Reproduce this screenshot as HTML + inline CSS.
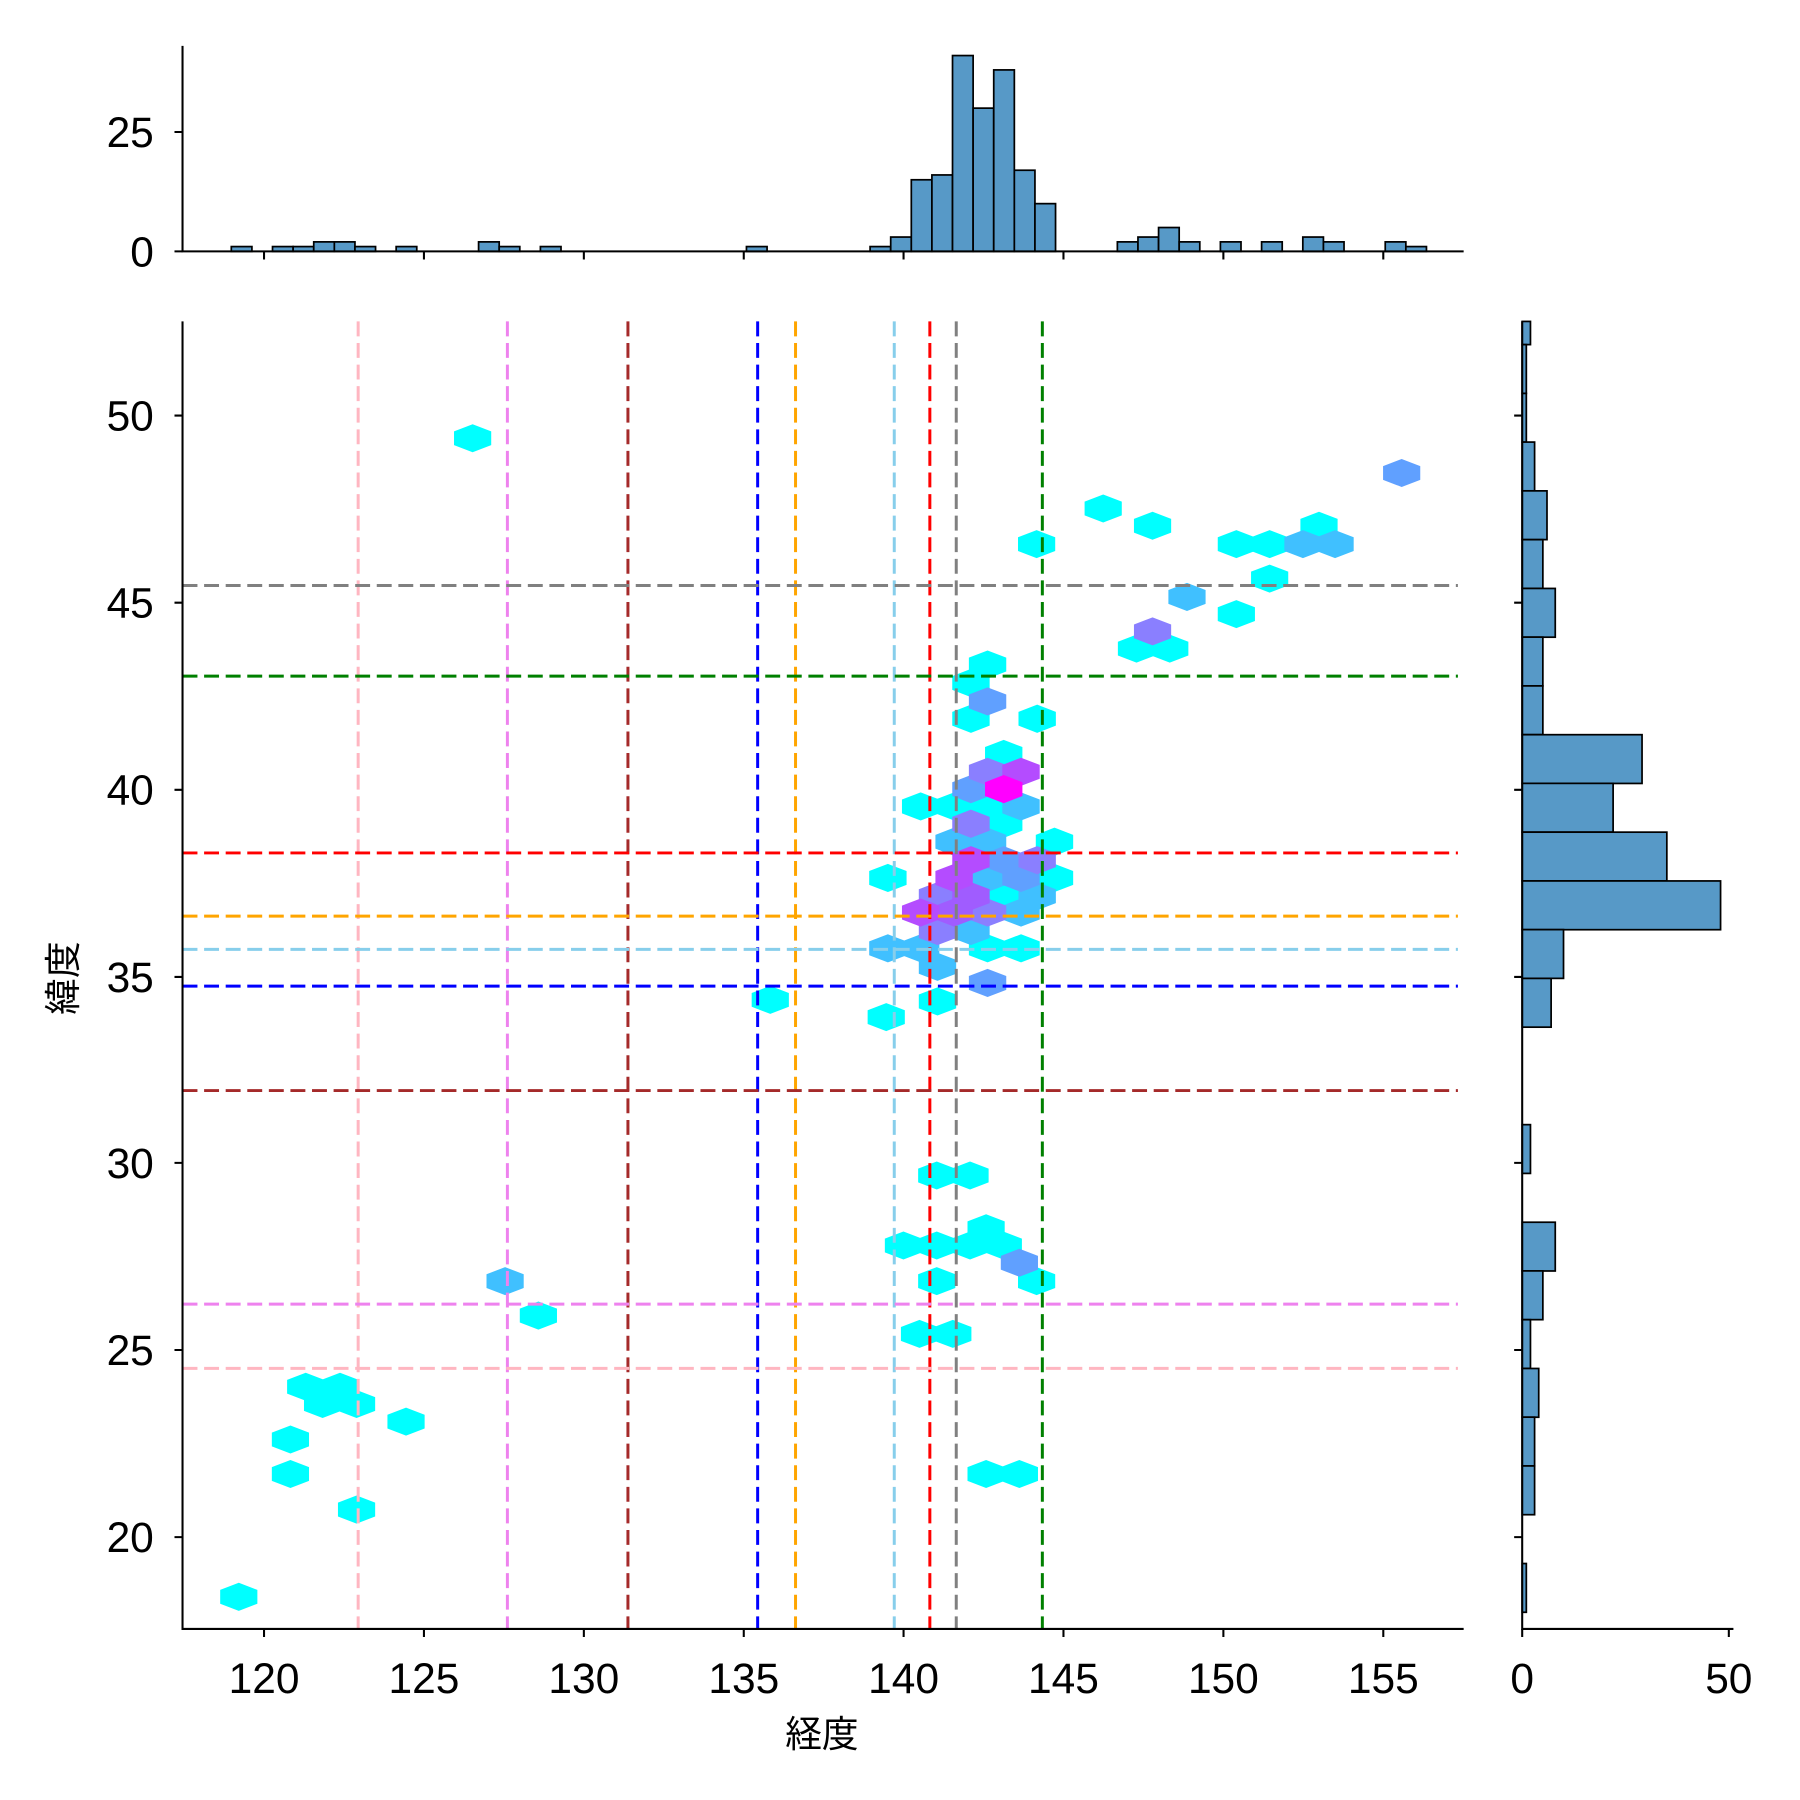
<!DOCTYPE html>
<html><head><meta charset="utf-8"><style>html,body{margin:0;padding:0;background:#fff}svg{display:block}</style></head><body>
<svg xmlns="http://www.w3.org/2000/svg" xmlns:xlink="http://www.w3.org/1999/xlink" width="1800" height="1800" viewBox="0 0 1568 1568">
<defs><polygon id="h" points="0,-12.2 16.2,-6 16.2,6 0,12.2 -16.2,6 -16.2,-6"/></defs>
<rect width="1568" height="1568" fill="#fff"/>
<!-- hexes -->
<g fill="#00ffff">
<use xlink:href="#h" x="208" y="1391"/><use xlink:href="#h" x="253" y="1254"/><use xlink:href="#h" x="253" y="1284"/>
<use xlink:href="#h" x="310.6" y="1315"/><use xlink:href="#h" x="353.7" y="1238.4"/>
<use xlink:href="#h" x="266.3" y="1208"/><use xlink:href="#h" x="296.2" y="1208"/><use xlink:href="#h" x="281" y="1223"/><use xlink:href="#h" x="310.6" y="1223"/>
<use xlink:href="#h" x="469" y="1146"/><use xlink:href="#h" x="411.7" y="381.8"/>
<use xlink:href="#h" x="961" y="443"/><use xlink:href="#h" x="1004" y="458"/><use xlink:href="#h" x="903" y="474"/>
<use xlink:href="#h" x="1149" y="458"/><use xlink:href="#h" x="1077" y="474"/><use xlink:href="#h" x="1106" y="474"/>
<use xlink:href="#h" x="1106" y="504"/><use xlink:href="#h" x="1077" y="535"/>
<use xlink:href="#h" x="990" y="565"/><use xlink:href="#h" x="1019" y="565"/>
<use xlink:href="#h" x="816" y="1024"/><use xlink:href="#h" x="845" y="1024"/><use xlink:href="#h" x="859" y="1070"/>
<use xlink:href="#h" x="787" y="1085"/><use xlink:href="#h" x="816" y="1085"/><use xlink:href="#h" x="845" y="1085"/><use xlink:href="#h" x="874" y="1085"/>
<use xlink:href="#h" x="816" y="1116"/><use xlink:href="#h" x="903" y="1116"/><use xlink:href="#h" x="801" y="1162"/><use xlink:href="#h" x="830" y="1162"/>
<use xlink:href="#h" x="859" y="1284"/><use xlink:href="#h" x="888" y="1284"/>
<use xlink:href="#h" x="671" y="871"/><use xlink:href="#h" x="772" y="886"/>
</g>
<use xlink:href="#h" x="440" y="1116" fill="#40c0ff"/>
<use xlink:href="#h" x="1221" y="412" fill="#60a0ff"/>
<use xlink:href="#h" x="1135" y="474" fill="#40c0ff"/><use xlink:href="#h" x="1163" y="474" fill="#40c0ff"/>
<use xlink:href="#h" x="1034" y="520" fill="#40c0ff"/><use xlink:href="#h" x="1004" y="550" fill="#8a7fff"/>
<use xlink:href="#h" x="888" y="1100" fill="#60a0ff"/>
<g transform="scale(1.005)">
<g fill="#00ffff">
<use xlink:href="#h" x="856" y="576"/><use xlink:href="#h" x="841.6" y="592"/><use xlink:href="#h" x="841.6" y="623"/><use xlink:href="#h" x="899" y="623"/>
<use xlink:href="#h" x="870" y="653.5"/><use xlink:href="#h" x="798" y="699"/><use xlink:href="#h" x="827" y="699"/><use xlink:href="#h" x="856" y="699"/>
<use xlink:href="#h" x="870" y="714"/><use xlink:href="#h" x="914" y="729.6"/><use xlink:href="#h" x="914" y="761"/><use xlink:href="#h" x="769.6" y="761"/>
<use xlink:href="#h" x="870" y="776.8"/><use xlink:href="#h" x="856" y="822"/><use xlink:href="#h" x="885" y="822"/><use xlink:href="#h" x="812.6" y="868"/>
</g>
<g fill="#40c0ff">
<use xlink:href="#h" x="885" y="699"/><use xlink:href="#h" x="827" y="729.6"/><use xlink:href="#h" x="856" y="729.6"/><use xlink:href="#h" x="856" y="761"/>
<use xlink:href="#h" x="899" y="776.8"/><use xlink:href="#h" x="885" y="791"/><use xlink:href="#h" x="841.6" y="807"/><use xlink:href="#h" x="769.6" y="822"/>
<use xlink:href="#h" x="798" y="822"/><use xlink:href="#h" x="812.6" y="838"/>
</g>
<g fill="#60a0ff">
<use xlink:href="#h" x="856" y="608"/><use xlink:href="#h" x="841.6" y="684"/><use xlink:href="#h" x="870" y="745.6"/><use xlink:href="#h" x="885" y="761"/><use xlink:href="#h" x="856" y="852"/>
</g>
<g fill="#8a7fff">
<use xlink:href="#h" x="856" y="669"/><use xlink:href="#h" x="841.6" y="714"/><use xlink:href="#h" x="899" y="745.6"/><use xlink:href="#h" x="812.6" y="776.8"/><use xlink:href="#h" x="856" y="791"/><use xlink:href="#h" x="812.6" y="807"/>
</g>
<g fill="#a05cff"><use xlink:href="#h" x="841.6" y="776.8"/><use xlink:href="#h" x="827" y="791"/></g>
<g fill="#b44cff"><use xlink:href="#h" x="885" y="669"/><use xlink:href="#h" x="841.6" y="745.6"/><use xlink:href="#h" x="827" y="761"/><use xlink:href="#h" x="798" y="791"/></g>
<use xlink:href="#h" x="870" y="684" fill="#ff00ff"/>
</g>
<!-- dashed lines -->
<g stroke-width="2.6" stroke-dasharray="13,5.8" fill="none">
<line x1="312" y1="280" x2="312" y2="1419" stroke="#ffb6c1"/>
<line x1="442" y1="280" x2="442" y2="1419" stroke="#ee82ee"/>
<line x1="547" y1="280" x2="547" y2="1419" stroke="#a52a2a"/>
<line x1="660" y1="280" x2="660" y2="1419" stroke="#0000ff"/>
<line x1="693" y1="280" x2="693" y2="1419" stroke="#ffa500"/>
<line x1="779" y1="280" x2="779" y2="1419" stroke="#87ceeb"/>
<line x1="810" y1="280" x2="810" y2="1419" stroke="#ff0000"/>
<line x1="833" y1="280" x2="833" y2="1419" stroke="#808080"/>
<line x1="908" y1="280" x2="908" y2="1419" stroke="#008000"/>
<line x1="159" y1="510" x2="1270" y2="510" stroke="#808080"/>
<line x1="159" y1="589" x2="1270" y2="589" stroke="#008000"/>
<line x1="159" y1="743" x2="1270" y2="743" stroke="#ff0000"/>
<line x1="159" y1="798" x2="1270" y2="798" stroke="#ffa500"/>
<line x1="159" y1="827" x2="1270" y2="827" stroke="#87ceeb"/>
<line x1="159" y1="859" x2="1270" y2="859" stroke="#0000ff"/>
<line x1="159" y1="950" x2="1270" y2="950" stroke="#a52a2a"/>
<line x1="159" y1="1136" x2="1270" y2="1136" stroke="#ee82ee"/>
<line x1="159" y1="1192" x2="1270" y2="1192" stroke="#ffb6c1"/>
</g>
<!-- main axes -->
<g stroke="#000" stroke-width="1.8" fill="none">
<path d="M159,280 V1419 H1275"/>
<path d="M230,1419v7M369.3,1419v7M508.6,1419v7M647.9,1419v7M787.1,1419v7M926.4,1419v7M1065.7,1419v7M1205,1419v7"/>
<path d="M159,362h-7M159,525h-7M159,688h-7M159,851h-7M159,1013h-7M159,1176h-7M159,1339h-7"/>
</g>
<g font-family="Liberation Sans, sans-serif" font-size="37" fill="#000">
<g text-anchor="middle">
<text x="230" y="1475">120</text><text x="369.3" y="1475">125</text><text x="508.6" y="1475">130</text><text x="647.9" y="1475">135</text>
<text x="787.1" y="1475">140</text><text x="926.4" y="1475">145</text><text x="1065.7" y="1475">150</text><text x="1205" y="1475">155</text>
<text x="1326" y="1475">0</text><text x="1506" y="1475">50</text>
</g>
<g text-anchor="end">
<text x="134" y="375">50</text><text x="134" y="538">45</text><text x="134" y="701">40</text><text x="134" y="864">35</text>
<text x="134" y="1026">30</text><text x="134" y="1189">25</text><text x="134" y="1352">20</text>
<text x="134" y="128">25</text><text x="134" y="232">0</text>
</g>
</g>
<g font-family="Liberation Sans, 'Noto Sans CJK JP', sans-serif" font-size="32" fill="#000" text-anchor="middle">
<text x="716" y="1522">経度</text>
<text transform="translate(66,852) rotate(-90)" x="0" y="0">緯度</text>
</g>
<!-- top histogram -->
<g fill="#5799c7" stroke="#000" stroke-width="1.5">
<rect x="201.5" y="214.8" width="17.95" height="4.2"/>
<rect x="237.4" y="214.8" width="17.95" height="4.2"/>
<rect x="255.35" y="214.8" width="17.95" height="4.2"/>
<rect x="273.3" y="210.7" width="17.95" height="8.3"/>
<rect x="291.25" y="210.7" width="17.95" height="8.3"/>
<rect x="309.2" y="214.8" width="17.95" height="4.2"/>
<rect x="345.1" y="214.8" width="17.95" height="4.2"/>
<rect x="416.9" y="210.7" width="17.95" height="8.3"/>
<rect x="434.85" y="214.8" width="17.95" height="4.2"/>
<rect x="470.75" y="214.8" width="17.95" height="4.2"/>
<rect x="650.25" y="214.8" width="17.95" height="4.2"/>
<rect x="757.95" y="214.8" width="17.95" height="4.2"/>
<rect x="775.9" y="206.5" width="17.95" height="12.5"/>
<rect x="793.85" y="156.6" width="17.95" height="62.4"/>
<rect x="811.8" y="152.4" width="17.95" height="66.6"/>
<rect x="829.75" y="48.4" width="17.95" height="170.6"/>
<rect x="847.7" y="94.2" width="17.95" height="124.8"/>
<rect x="865.65" y="60.9" width="17.95" height="158.1"/>
<rect x="883.6" y="148.3" width="17.95" height="70.7"/>
<rect x="901.55" y="177.4" width="17.95" height="41.6"/>
<rect x="973.35" y="210.7" width="17.95" height="8.3"/>
<rect x="991.3" y="206.5" width="17.95" height="12.5"/>
<rect x="1009.25" y="198.2" width="17.95" height="20.8"/>
<rect x="1027.2" y="210.7" width="17.95" height="8.3"/>
<rect x="1063.1" y="210.7" width="17.95" height="8.3"/>
<rect x="1099" y="210.7" width="17.95" height="8.3"/>
<rect x="1134.9" y="206.5" width="17.95" height="12.5"/>
<rect x="1152.85" y="210.7" width="17.95" height="8.3"/>
<rect x="1206.7" y="210.7" width="17.95" height="8.3"/>
<rect x="1224.65" y="214.8" width="17.95" height="4.2"/>
</g>
<g stroke="#000" stroke-width="1.8" fill="none">
<path d="M159,40 V219 H1275"/>
<path d="M230,219v7M369.3,219v7M508.6,219v7M647.9,219v7M787.1,219v7M926.4,219v7M1065.7,219v7M1205,219v7"/>
<path d="M159,115h-7M159,219h-7"/>
</g>
<!-- right histogram -->
<g fill="#5799c7" stroke="#000" stroke-width="1.5">
<rect x="1326" y="280" width="7.2" height="20.2"/>
<rect x="1326" y="300.2" width="3.6" height="42.47"/>
<rect x="1326" y="342.7" width="3.6" height="42.47"/>
<rect x="1326" y="385.1" width="10.8" height="42.47"/>
<rect x="1326" y="427.6" width="21.6" height="42.47"/>
<rect x="1326" y="470.1" width="18" height="42.47"/>
<rect x="1326" y="512.6" width="28.8" height="42.47"/>
<rect x="1326" y="555" width="18" height="42.47"/>
<rect x="1326" y="597.5" width="18" height="42.47"/>
<rect x="1326" y="640" width="104.4" height="42.47"/>
<rect x="1326" y="682.4" width="79.2" height="42.47"/>
<rect x="1326" y="724.9" width="126" height="42.47"/>
<rect x="1326" y="767.4" width="172.8" height="42.47"/>
<rect x="1326" y="809.8" width="36" height="42.47"/>
<rect x="1326" y="852.3" width="25.2" height="42.47"/>
<rect x="1326" y="979.7" width="7.2" height="42.47"/>
<rect x="1326" y="1064.7" width="28.8" height="42.47"/>
<rect x="1326" y="1107.1" width="18" height="42.47"/>
<rect x="1326" y="1149.6" width="7.2" height="42.47"/>
<rect x="1326" y="1192.1" width="14.4" height="42.47"/>
<rect x="1326" y="1234.5" width="10.8" height="42.47"/>
<rect x="1326" y="1277" width="10.8" height="42.47"/>
<rect x="1326" y="1362" width="3.6" height="42.47"/>
</g>
<g stroke="#000" stroke-width="1.8" fill="none">
<path d="M1326,280 V1419 H1510"/>
<path d="M1326,1419v7M1506,1419v7"/>
<path d="M1326,362h-7M1326,525h-7M1326,688h-7M1326,851h-7M1326,1013h-7M1326,1176h-7M1326,1339h-7"/>
</g>
</svg>
</body></html>
